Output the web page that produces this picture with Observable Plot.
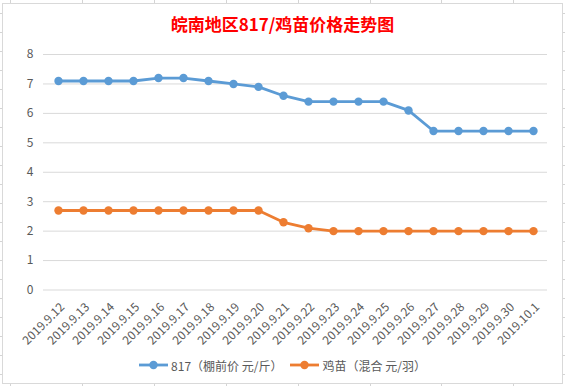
<!DOCTYPE html>
<html>
<head>
<meta charset="utf-8">
<script src="https://cdn.jsdelivr.net/npm/d3@7"></script>
<script src="https://cdn.jsdelivr.net/npm/@observablehq/plot@0.6"></script>
<style>
  html, body { margin: 0; padding: 0; }
  body {
    width: 565px; height: 386px; position: relative; overflow: hidden;
    background-color: #fff;
    background-image:
      repeating-linear-gradient(to bottom, transparent 0 13px, #d4d4d4 13px 14px, transparent 14px 19px),
      repeating-linear-gradient(to right, transparent 0 10px, #d4d4d4 10px 11px, transparent 11px 71.9px);
    font-family: "Noto Sans CJK SC", "Noto Sans", sans-serif;
  }
  #chart {
    position: absolute; left: 2px; top: 3px; width: 561px; height: 381px;
    box-sizing: border-box; border: 1px solid #d9d9d9; background: #fff;
  }
  #title {
    height: 40px; line-height: 40px; text-align: center;
    color: #ff0000; font-weight: bold; font-size: 17px;
  }
  #plot { height: 320px; }
  #plot svg { display: block; overflow: visible; }
  #legend {
    height: 42px; margin-top: -20px; display: flex; justify-content: center; align-items: center;
    font-size: 12px; color: #595959; gap: 8px; position: relative;
  }
  .item { display: flex; align-items: center; gap: 3px; }
</style>
</head>
<body>
<div id="chart">
  <div id="title"></div>
  <div id="plot"></div>
  <div id="legend"></div>
</div>
<script>
const titleText = "皖南地区817/鸡苗价格走势图";
const dates = ["2019.9.12","2019.9.13","2019.9.14","2019.9.15","2019.9.16","2019.9.17","2019.9.18","2019.9.19","2019.9.20","2019.9.21","2019.9.22","2019.9.23","2019.9.24","2019.9.25","2019.9.26","2019.9.27","2019.9.28","2019.9.29","2019.9.30","2019.10.1"];
const price817 = [7.1,7.1,7.1,7.1,7.2,7.2,7.1,7.0,6.9,6.6,6.4,6.4,6.4,6.4,6.1,5.4,5.4,5.4,5.4,5.4];
const priceChick = [2.7,2.7,2.7,2.7,2.7,2.7,2.7,2.7,2.7,2.3,2.1,2.0,2.0,2.0,2.0,2.0,2.0,2.0,2.0,2.0];
const seriesNames = ["817（棚前价 元/斤）","鸡苗（混合 元/羽）"];
const seriesColors = ["#5b9bd5","#ed7d31"];
const yTicks = [0,1,2,3,4,5,6,7,8];

document.getElementById("title").textContent = titleText;

const rows = [];
dates.forEach((d, i) => {
  rows.push({date: d, value: price817[i], series: seriesNames[0]});
  rows.push({date: d, value: priceChick[i], series: seriesNames[1]});
});

const chart = Plot.plot({
  width: 558,
  height: 320,
  marginTop: 10,
  marginBottom: 74.5,
  marginLeft: 40,
  marginRight: 14,
  style: {fontFamily: '"Noto Sans CJK SC", "Noto Sans", sans-serif', fontSize: "12px", color: "#595959", background: "transparent"},
  x: {type: "point", domain: dates, padding: 0.5, axis: null},
  y: {domain: [0, 8], axis: null},
  color: {domain: seriesNames, range: seriesColors},
  marks: [
    Plot.ruleY(yTicks, {stroke: "#d9d9d9", strokeWidth: 1}),
    Plot.axisY(yTicks, {tickSize: 0, tickPadding: 10, label: null, fill: "#595959"}),
    Plot.axisX(dates, {tickSize: 0, tickRotate: -45, tickPadding: 15, dx: 4, label: null, fill: "#595959"}),
    Plot.line(rows, {x: "date", y: "value", z: "series", stroke: "series", strokeWidth: 2.8, curve: "linear"}),
    Plot.dot(rows, {x: "date", y: "value", fill: "series", r: 4.2, stroke: "none"})
  ]
});
document.getElementById("plot").appendChild(chart);

const legend = document.getElementById("legend");
seriesNames.forEach((name, i) => {
  const item = document.createElement("div");
  item.className = "item";
  item.innerHTML = `<svg width="29" height="10"><line x1="0" x2="29" y1="5" y2="5" stroke="${seriesColors[i]}" stroke-width="2.8"/><circle cx="14.5" cy="5" r="4.2" fill="${seriesColors[i]}"/></svg><span>${name}</span>`;
  legend.appendChild(item);
});
</script>
</body>
</html>
